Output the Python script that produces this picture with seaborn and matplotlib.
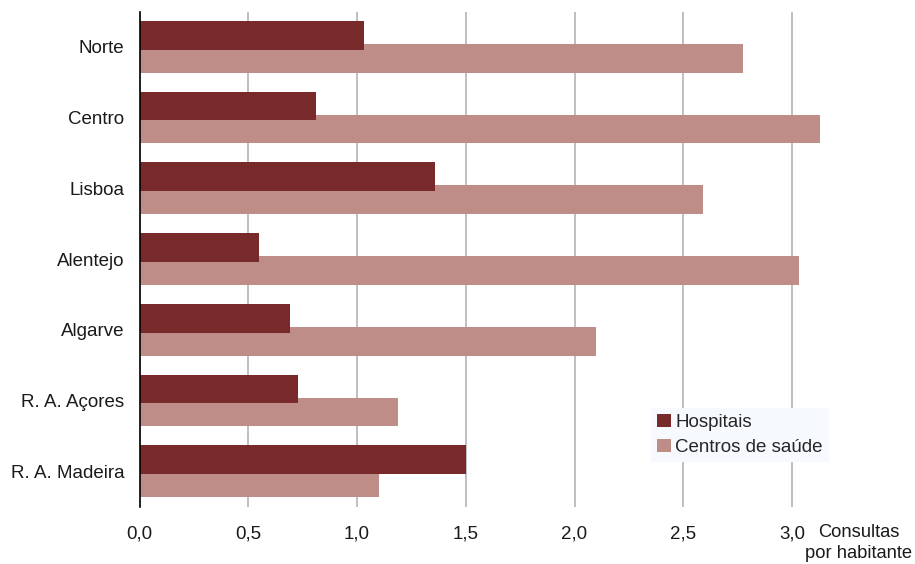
import matplotlib
matplotlib.use("Agg")
import matplotlib.pyplot as plt
import seaborn as sns
import pandas as pd

regions = ["Norte", "Centro", "Lisboa", "Alentejo", "Algarve", "R. A. Açores", "R. A. Madeira"]
hospitais = [1.03, 0.81, 1.36, 0.55, 0.69, 0.73, 1.50]
centros = [2.775, 3.13, 2.59, 3.03, 2.10, 1.19, 1.10]
series = ["Hospitais", "Centros de saúde"]
xticks = [0.0, 0.5, 1.0, 1.5, 2.0, 2.5, 3.0]
xticklabels = ["0,0", "0,5", "1,0", "1,5", "2,0", "2,5", "3,0"]

df = pd.DataFrame({
    "Região": regions * 2,
    "Valor": hospitais + centros,
    "Série": [series[0]] * len(regions) + [series[1]] * len(regions),
})

sns.set_theme(style="white")
plt.rcParams["font.family"] = ["Liberation Sans", "DejaVu Sans"]

W, H = 915, 564
x0, x1 = 139.5, 139.5 + 3.2 * 217.5
y0, y1 = 11.5, 506.5
fig = plt.figure(figsize=(W / 100, H / 100), dpi=100)
ax = fig.add_axes([x0 / W, 1 - y1 / H, (x1 - x0) / W, (y1 - y0) / H])

palette = {"Hospitais": "#782A2B", "Centros de saúde": "#BE8D88"}
sns.barplot(data=df, y="Região", x="Valor", hue="Série", hue_order=series,
            order=regions, palette=palette, width=0.65, saturation=1,
            orient="h", ax=ax, linewidth=0)

# make bars overlap slightly (as in reference), hospitals on top
bar_h = 0.405
n = len(regions)
for i, p in enumerate(ax.patches[:2 * n]):
    c = p.get_y() + p.get_height() / 2
    p.set_y(c - bar_h / 2)
    p.set_height(bar_h)
    p.set_zorder(3 if i < n else 2)

ax.set_xlim(0, 3.2)
ax.set_ylim(n - 0.5, -0.5)
ax.set_xticks(xticks)
ax.set_xticklabels(xticklabels)
ax.xaxis.grid(True, color="#B4B4B4", linewidth=1.2)
ax.yaxis.grid(False)
ax.set_axisbelow(True)
for s in ["top", "right", "bottom"]:
    ax.spines[s].set_visible(False)
ax.spines["left"].set_color("black")
ax.spines["left"].set_linewidth(1.2)
ax.spines["left"].set_zorder(5)
ax.tick_params(axis="x", length=0, pad=13.5, labelsize=13.5, colors="#1a1a1a")
ax.tick_params(axis="y", length=0, pad=10.8, labelsize=13.5, colors="#1a1a1a")
ax.set_xlabel("")
ax.set_ylabel("")

fig.text(859 / W, 1 - 543 / H, "Consultas\npor habitante", ha="center", va="center",
         fontsize=13.2, color="#1a1a1a", linespacing=1.25)

leg = ax.legend(loc="upper left", bbox_to_anchor=((651 - x0) / (x1 - x0), 1 - (408 - y0) / (y1 - y0)),
                frameon=True, fontsize=13.5, handlelength=0.75, handleheight=0.75,
                handletextpad=0.25, borderpad=0.3, labelspacing=0.4, borderaxespad=0)
leg.get_frame().set_facecolor("#F6FAFE")
leg.get_frame().set_edgecolor("none")
leg.get_frame().set_alpha(1)
leg.get_frame().set_boxstyle("square", pad=0)
leg.set_zorder(10)

fig.savefig("out.png", dpi=100, facecolor="white")
